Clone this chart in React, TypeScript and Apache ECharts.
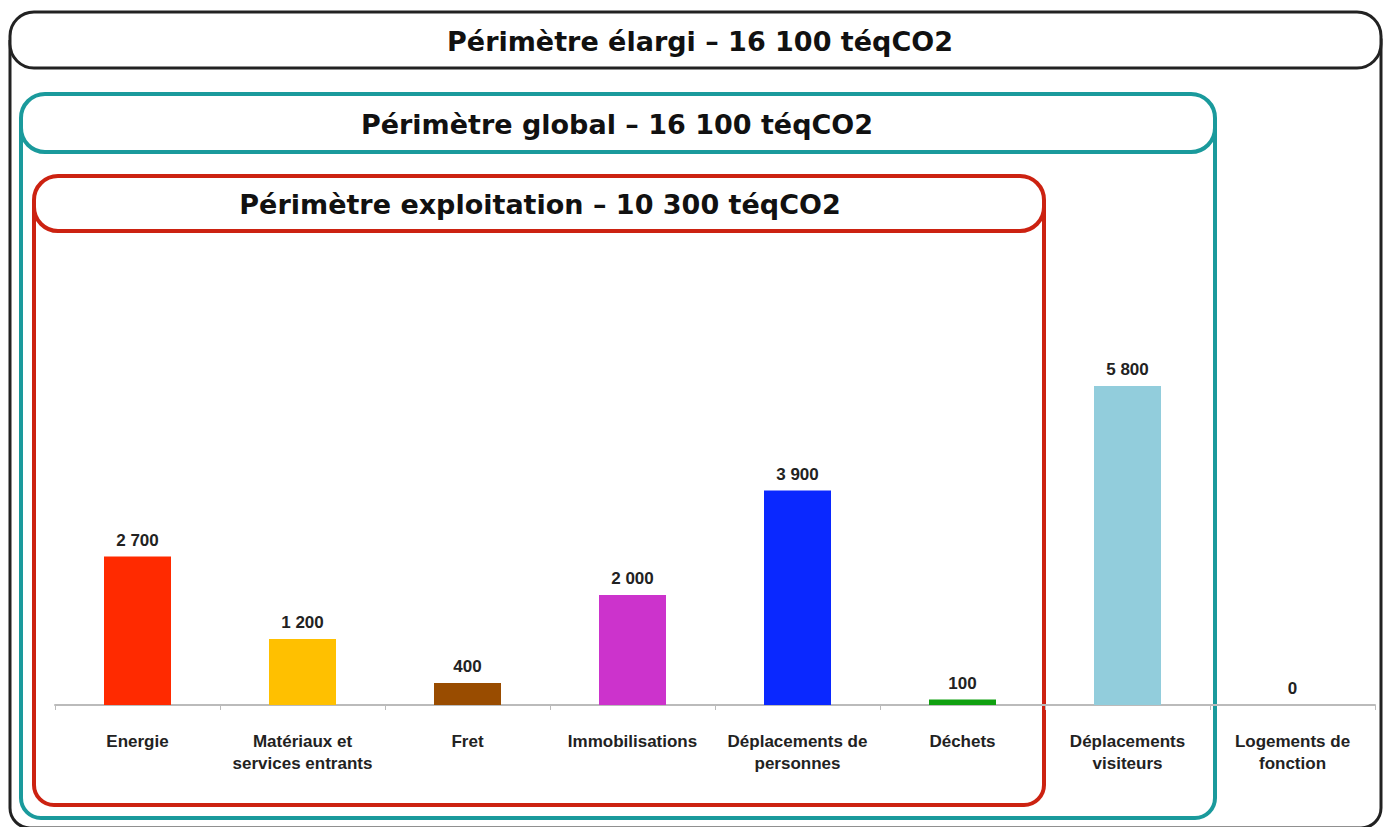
import React, { useEffect, useRef } from "react";
import * as echarts from "echarts";

const categories = [
  "Energie",
  "Matériaux et\nservices entrants",
  "Fret",
  "Immobilisations",
  "Déplacements de\npersonnes",
  "Déchets",
  "Déplacements\nvisiteurs",
  "Logements de\nfonction",
];
const values = [2700, 1200, 400, 2000, 3900, 100, 5800, 0];
const barColors = ["#FF2A00", "#FFC000", "#994C00", "#CC33CC", "#0A28FF", "#10A010", "#92CDDC", "#92CDDC"];
const titles = [
  "Périmètre élargi – 16 100 téqCO2",
  "Périmètre global – 16 100 téqCO2",
  "Périmètre exploitation – 10 300 téqCO2",
];

const fmt = (v: number) => String(v).replace(/\B(?=(\d{3})+(?!\d))/g, " ");

const LABEL_FONT = "'Liberation Sans', Arial, sans-serif";
const TITLE_FONT = "'DejaVu Sans', 'Liberation Sans', Arial, sans-serif";

function frame(
  x1: number, x2: number, bottom: number,
  hy1: number, hy2: number, color: string, width: number, title: string, titleX: number
) {
  const mid = (hy1 + hy2) / 2;
  return [
    {
      type: "rect",
      shape: { x: x1, y: mid, width: x2 - x1, height: bottom - mid, r: [0, 0, 20, 20] },
      style: { fill: "none", stroke: color, lineWidth: width },
      silent: true,
    },
    {
      type: "rect",
      shape: { x: x1, y: hy1, width: x2 - x1, height: hy2 - hy1, r: 24 },
      style: { fill: "#ffffff", stroke: color, lineWidth: width },
      silent: true,
    },
    {
      type: "text",
      x: titleX,
      y: mid + 1,
      style: {
        text: title,
        fill: "#111111",
        font: `bold 27px ${TITLE_FONT}`,
        align: "center",
        verticalAlign: "middle",
      },
      silent: true,
    },
  ];
}

export default function App() {
  const ref = useRef<HTMLDivElement>(null);
  useEffect(() => {
    if (!ref.current) return;
    const chart = echarts.init(ref.current, null, { renderer: "svg" });
    const graphics = [
      ...frame(10, 1381, 828, 12, 68, "#222222", 3, titles[0], 700),
      ...frame(21, 1215, 818, 94, 152, "#1A9A9C", 4, titles[1], 617),
      ...frame(34, 1044, 805, 176, 231, "#CC2211", 4, titles[2], 540),
    ];
    chart.setOption({
      animation: false,
      backgroundColor: "#ffffff",
      grid: { left: 55, right: 8, top: 375, bottom: 122, containLabel: false },
      xAxis: {
        type: "category",
        data: categories,
        axisLine: { lineStyle: { color: "#BBBBBB", width: 2 } },
        axisTick: { show: true, length: 5, lineStyle: { color: "#BBBBBB" } },
        axisLabel: {
          interval: 0,
          margin: 25,
          color: "#222222",
          fontFamily: LABEL_FONT,
          fontWeight: "bold",
          fontSize: 17,
          lineHeight: 22,
        },
      },
      yAxis: {
        type: "value",
        min: 0,
        max: 6000,
        show: false,
        splitLine: { show: false },
      },
      series: [
        {
          type: "bar",
          data: values.map((v, i) => ({ value: v, itemStyle: { color: barColors[i] } })),
          barWidth: 67,
          label: {
            show: true,
            position: "top",
            distance: 8,
            color: "#222222",
            fontFamily: LABEL_FONT,
            fontWeight: "bold",
            fontSize: 17,
            formatter: (p: any) => fmt(p.value),
          },
        },
      ],
      graphic: graphics,
    });
    return () => chart.dispose();
  }, []);
  return (
    <div
      ref={ref}
      style={{ position: "fixed", left: 0, top: 0, width: 1383, height: 827, background: "#fff" }}
    />
  );
}
